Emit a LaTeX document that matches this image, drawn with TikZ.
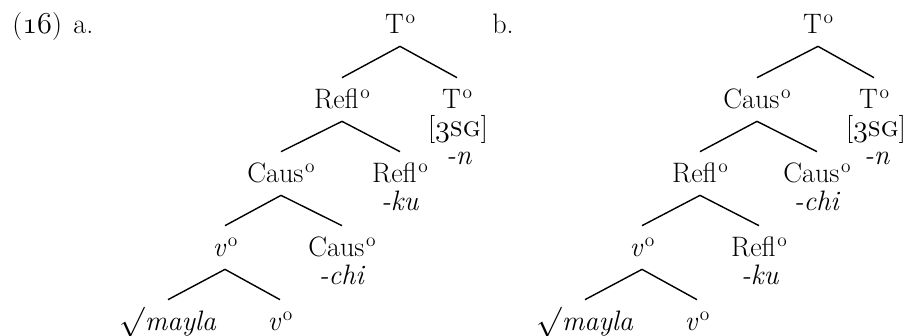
\documentclass[tikz,border=0pt]{standalone}
\usepackage{fontspec}
\newcommand{\hdo}[1]{#1\kern0.06em\raisebox{5.6pt}{\fontsize{11}{11}\selectfont o}}
\newcommand{\osnum}[1]{{\usefont{OML}{lmm}{m}{it}#1}}

\begin{document}
\begin{tikzpicture}[
    x=0.02cm, y=-0.02cm,
    cat/.style={anchor=base, text height=0.38cm, text depth=0.04cm, inner ysep=0.22cm, inner xsep=0pt, font=\fontsize{16}{19}\selectfont},
    gl/.style={anchor=base, inner sep=0pt, font=\fontsize{16}{19}\selectfont},
    br/.style={line width=0.8pt}
  ]
  \useasboundingbox (0,0) rectangle (906,335);

  % example number and labels
  \node[gl, anchor=base west] (exno) at (12,33) {(\osnum{16})};
  \node[gl, anchor=base west] (exa) at (73,33) {a.};
  \node[gl, anchor=base west] (exb) at (492,33) {b.};

  % tree a
  \node[cat] (ta1) at (400,33) {\hdo{T}};
  \node[cat] (ra2) at (342,108) {\hdo{Refl}};
  \node[cat] (ta2) at (457,108) {\hdo{T}};
  \node[gl] (ta2f) at (458,136) {[\osnum{3}\textsc{sg}]};
  \node[gl] (ta2m) at (459,164) {\textit{-n}};
  \node[cat] (ca3) at (281,182) {\hdo{Caus}};
  \node[cat] (ra3) at (400,182) {\hdo{Refl}};
  \node[gl] (ra3m) at (400,210) {\textit{-ku}};
  \node[cat] (va4) at (225,256) {\hdo{\textit{v}}};
  \node[cat] (ca4) at (342,256) {\hdo{Caus}};
  \node[gl] (ca4m) at (342,284) {\textit{-chi}};
  \node[cat] (rta5) at (168,330) {$\surd$\textit{mayla}};
  \node[cat] (va5) at (280,330) {\hdo{\textit{v}}};

  \draw[br] (ta1.south) -- (ra2.north);
  \draw[br] (ta1.south) -- (ta2.north);
  \draw[br] (ra2.south) -- (ca3.north);
  \draw[br] (ra2.south) -- (ra3.north);
  \draw[br] (ca3.south) -- (va4.north);
  \draw[br] (ca3.south) -- (ca4.north);
  \draw[br] (va4.south) -- (rta5.north);
  \draw[br] (va4.south) -- (va5.north);

  % tree b
  \node[cat] (tb1) at (818,33) {\hdo{T}};
  \node[cat] (cb2) at (757,108) {\hdo{Caus}};
  \node[cat] (tb2) at (874,108) {\hdo{T}};
  \node[gl] (tb2f) at (876,136) {[\osnum{3}\textsc{sg}]};
  \node[gl] (tb2m) at (877,164) {\textit{-n}};
  \node[cat] (rb3) at (700,182) {\hdo{Refl}};
  \node[cat] (cb3) at (817,182) {\hdo{Caus}};
  \node[gl] (cb3m) at (817,210) {\textit{-chi}};
  \node[cat] (vb4) at (642,256) {\hdo{\textit{v}}};
  \node[cat] (rb4) at (759,256) {\hdo{Refl}};
  \node[gl] (rb4m) at (760,284) {\textit{-ku}};
  \node[cat] (rtb5) at (585,330) {$\surd$\textit{mayla}};
  \node[cat] (vb5) at (697,330) {\hdo{\textit{v}}};

  \draw[br] (tb1.south) -- (cb2.north);
  \draw[br] (tb1.south) -- (tb2.north);
  \draw[br] (cb2.south) -- (rb3.north);
  \draw[br] (cb2.south) -- (cb3.north);
  \draw[br] (rb3.south) -- (vb4.north);
  \draw[br] (rb3.south) -- (rb4.north);
  \draw[br] (vb4.south) -- (rtb5.north);
  \draw[br] (vb4.south) -- (vb5.north);
\end{tikzpicture}
\end{document}
